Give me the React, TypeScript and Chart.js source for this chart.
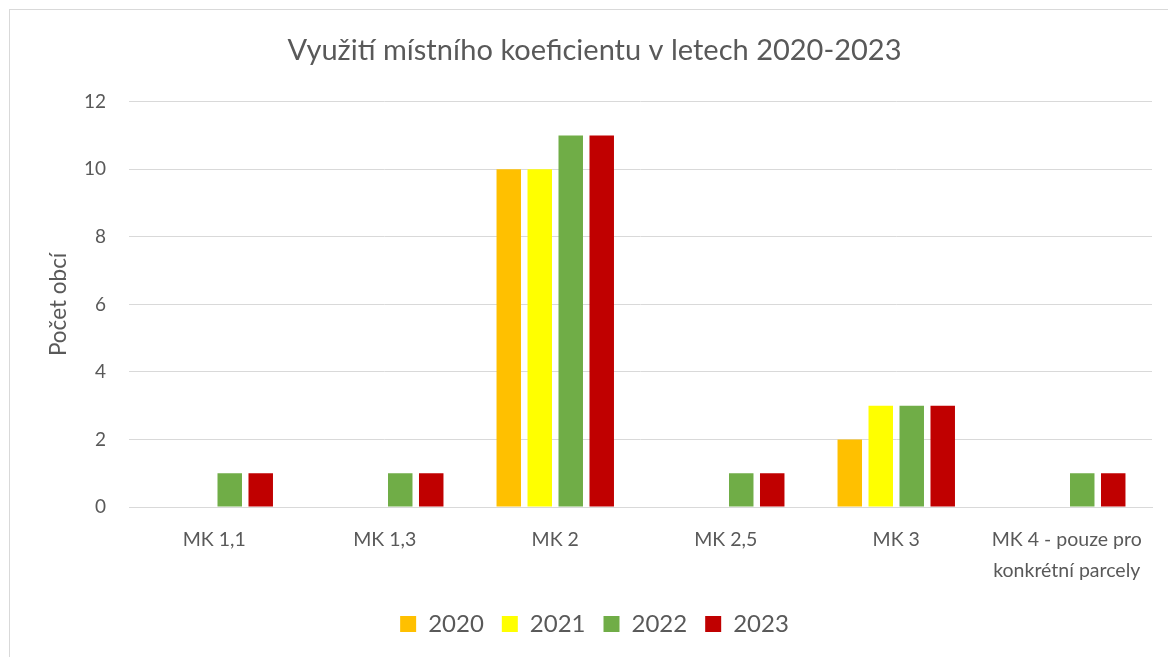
import React, { useEffect, useRef } from "react";
import { Chart, registerables } from "chart.js";

Chart.register(...registerables);

const TITLE = "Využití místního koeficientu v letech 2020-2023";
const Y_TITLE = "Počet obcí";
const categories: (string | string[])[] = [
  "MK 1,1",
  "MK 1,3",
  "MK 2",
  "MK 2,5",
  "MK 3",
  ["MK 4 - pouze pro", "konkrétní parcely"],
];
const seriesNames = ["2020", "2021", "2022", "2023"];
const values2020 = [0, 0, 10, 0, 2, 0];
const values2021 = [0, 0, 10, 0, 3, 0];
const values2022 = [1, 1, 11, 1, 3, 1];
const values2023 = [1, 1, 11, 1, 3, 1];
const seriesColors = ["#FFC000", "#FFFF00", "#70AD47", "#C00000"];
const yMin = 0;
const yMax = 12;
const yStep = 2;

const FONT = "Lato, 'Open Sans', sans-serif";
const TEXT = "#595959";

export default function App() {
  const ref = useRef<HTMLCanvasElement | null>(null);

  useEffect(() => {
    if (!ref.current) return;
    const allValues = [values2020, values2021, values2022, values2023];
    const chart = new Chart(ref.current, {
      type: "bar",
      data: {
        labels: categories,
        datasets: seriesNames.map((name, i) => ({
          label: name,
          data: allValues[i],
          backgroundColor: seriesColors[i],
          borderWidth: 0,
          categoryPercentage: 0.727,
          barPercentage: 0.79,
        })),
      },
      options: {
        responsive: false,
        animation: false,
        layout: { padding: { left: 27, right: 27, top: 0, bottom: 22 } },
        plugins: {
          title: {
            display: true,
            text: TITLE,
            color: TEXT,
            font: { family: FONT, size: 29, weight: "normal", lineHeight: 1.2 },
            padding: { top: 23, bottom: 34 },
          },
          legend: {
            position: "bottom",
            labels: {
              color: TEXT,
              font: { family: FONT, size: 24, lineHeight: 1.2 },
              boxWidth: 16,
              boxHeight: 16,
              padding: 18,
            },
          },
          tooltip: { enabled: false },
        },
        scales: {
          x: {
            grid: { display: false, drawTicks: false },
            border: { display: true, color: "#D9D9D9", width: 1 },
            ticks: {
              color: TEXT,
              font: { family: FONT, size: 19.5, lineHeight: 1.6 },
              padding: 17,
              maxRotation: 0,
              autoSkip: false,
            },
            afterFit: (scale: any) => {
              scale.height = 87;
            },
          },
          y: {
            min: yMin,
            max: yMax,
            ticks: {
              stepSize: yStep,
              color: TEXT,
              font: { family: FONT, size: 19 },
              padding: 23,
            },
            grid: { color: "#D9D9D9", lineWidth: 1, drawTicks: false },
            border: { display: false },
            title: {
              display: true,
              text: Y_TITLE,
              color: TEXT,
              font: { family: FONT, size: 22.5, lineHeight: 1.2 },
              padding: { top: 8.5, bottom: 0 },
            },
            afterFit: (scale: any) => {
              scale.width = 92;
            },
          },
        },
      },
    });
    return () => chart.destroy();
  }, []);

  return (
    <div
      style={{
        position: "fixed",
        left: 9,
        top: 9,
        width: 1171,
        height: 660,
        border: "1px solid #D9D9D9",
        boxSizing: "border-box",
        background: "#FFFFFF",
      }}
    >
      <canvas ref={ref} width={1169} height={658} style={{ display: "block" }} />
    </div>
  );
}
